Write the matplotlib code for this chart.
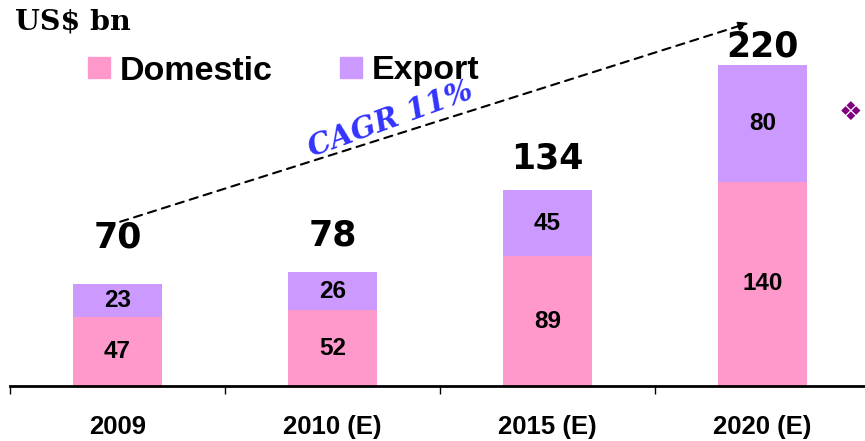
"""Stacked bar: domestic vs export market size, US$ bn, 2009-2020(E)."""
import matplotlib
matplotlib.use("Agg")
import matplotlib.pyplot as plt
from matplotlib.patches import Patch

plt.rcParams["font.family"] = ["Liberation Sans", "DejaVu Sans"]

years = ["2009", "2010 (E)", "2015 (E)", "2020 (E)"]
domestic = [47, 52, 89, 140]
export = [23, 26, 45, 80]
totals = [70, 78, 134, 220]
cagr_label = "CAGR 11%"

PINK = "#FF99CC"
LAVENDER = "#CC99FF"

fig = plt.figure(figsize=(8.65, 4.41), dpi=100)
ax = fig.add_axes([10 / 865, 55 / 441, 855 / 865, 386 / 441])

x = list(range(len(years)))
width = 0.41
ax.bar(x, domestic, width, color=PINK, label="Domestic")
ax.bar(x, export, width, bottom=domestic, color=LAVENDER, label="Export")

ax.set_xlim(-0.5, -0.5 + 855 / 215)
ax.set_ylim(0, 386 / 1.459)

# segment labels
for i in x:
    ax.text(i, domestic[i] / 2, f"{domestic[i]}", ha="center", va="center",
            fontsize=17.5, fontweight="bold")
    ax.text(i, domestic[i] + export[i] / 2, f"{export[i]}", ha="center", va="center",
            fontsize=17.5, fontweight="bold")

# totals above bars (offsets hand-tuned like the original slide)
total_pad = [21, 14, 11, 1]
for i in x:
    ax.annotate(f"{totals[i]}", (i, totals[i]), xytext=(0, total_pad[i]),
                textcoords="offset points", ha="center", va="bottom",
                fontsize=25, fontweight="bold", family="DejaVu Sans",
                annotation_clip=False)

# growth arrow + CAGR label
ax.annotate("", xy=(2.95, 249.5), xytext=(0.0, 112),
            arrowprops=dict(arrowstyle="-|>,head_length=0.6,head_width=0.25",
                            linestyle=(0, (4, 3)), color="black", lw=1.5),
            annotation_clip=False)
ax.text(1.27, 183, cagr_label, rotation=20, ha="center", va="center",
        color="#3333FF", fontsize=21, fontweight="bold", fontstyle="italic",
        family="DejaVu Serif", rotation_mode="anchor")

# axes styling
for side in ["left", "top", "right"]:
    ax.spines[side].set_visible(False)
ax.spines["bottom"].set_linewidth(2)
ax.set_yticks([])
ax.set_xticks([-0.5, 0.5, 1.5, 2.5])
ax.set_xticklabels([])
ax.tick_params(axis="x", which="major", direction="out", length=6, width=1)
ax.set_xticks(x, minor=True)
ax.set_xticklabels(years, minor=True, fontsize=18.5, fontweight="bold")
ax.tick_params(axis="x", which="minor", length=0, pad=21)

fig.text(15 / 865, 1 - 22 / 441, "US$ bn", ha="left", va="center",
         fontsize=20.5, fontweight="bold", family="DejaVu Serif")

handles = [Patch(color=PINK, label="Domestic"), Patch(color=LAVENDER, label="Export")]
fig.legend(handles=handles, loc="center left", bbox_to_anchor=(88 / 865, 1 - 71 / 441),
           ncol=2, frameon=False, prop=dict(weight="bold", size=24.5),
           handlelength=0.65, handleheight=0.6, handletextpad=0.27, columnspacing=2.0,
           borderpad=0, borderaxespad=0)

# bullet glyph at the right edge, as on the source slide
fig.text(862 / 865, 1 - 113 / 441, "\u2756", ha="right", va="center",
         color="#800080", fontsize=19, family="DejaVu Sans")

fig.savefig("out.png", dpi=100)
